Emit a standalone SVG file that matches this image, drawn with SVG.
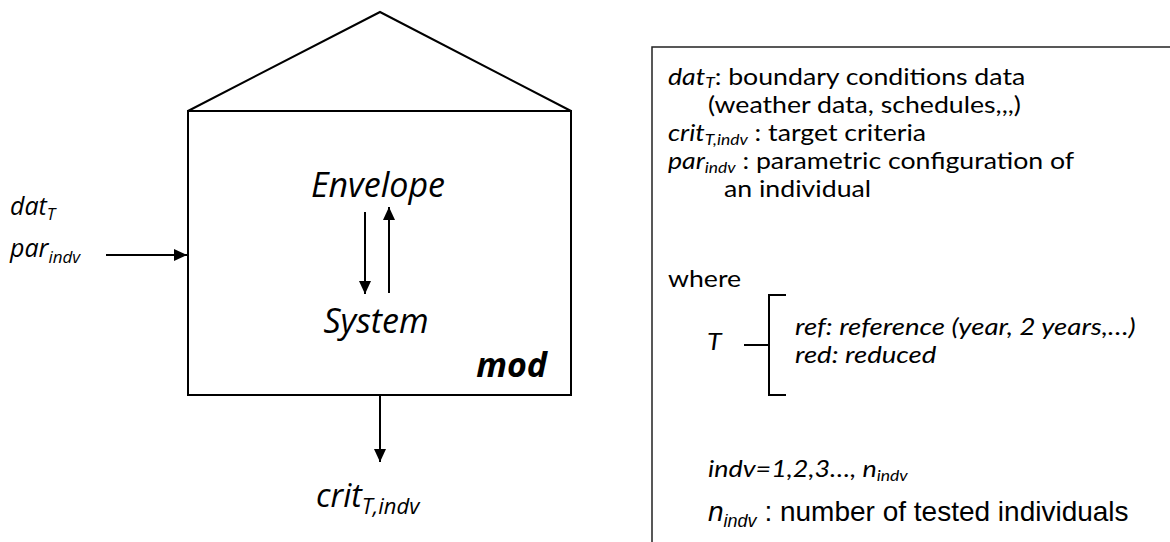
<svg xmlns="http://www.w3.org/2000/svg" width="1170" height="542" viewBox="0 0 1170 542">
<style>
.ln{stroke:#000;stroke-width:2;fill:none}
.bx{stroke:#222;stroke-width:1.5;fill:none}
.t{font-family:"Open Sans","Noto Sans",sans-serif;fill:#000}
.l{font-family:Lato,"Open Sans",sans-serif;fill:#000;font-size:23px}
.i{font-style:italic}
.a{font-family:"Liberation Sans",Arial,sans-serif;fill:#000}
</style>
<defs>
<marker id="ah" markerWidth="13" markerHeight="12" refX="13" refY="6" orient="auto" markerUnits="userSpaceOnUse"><path d="M0,0 L13,6 L0,12 z" fill="#000"/></marker>
</defs>
<rect width="1170" height="542" fill="#fff"/>
<g id="house">
<polyline class="ln" points="188,111 380,12 571,111"/>
<rect class="ln" x="188" y="111" width="383" height="284"/>
<text class="t i" x="378" y="197" font-size="34" text-anchor="middle">Envelope</text>
<text class="t i" x="376" y="333" font-size="34" text-anchor="middle">System</text>
<text class="t i" x="547" y="377" font-size="34" font-weight="bold" text-anchor="end">mod</text>
</g>
<g id="inputs">
<text class="t i" x="10" y="215" font-size="25">dat<tspan font-size="17" dy="5">T</tspan></text>
<text class="t i" x="10" y="257" font-size="25">par<tspan font-size="17" dy="6">indv</tspan></text>
</g>
<g id="output">
<text class="t i" x="316" y="507" font-size="32">crit<tspan font-size="22" dy="7">T,indv</tspan></text>
</g>
<g id="connectors">
<line class="ln" x1="106" y1="255" x2="187" y2="255" marker-end="url(#ah)"/>
<line class="ln" x1="365" y1="212" x2="365" y2="294" marker-end="url(#ah)"/>
<line class="ln" x1="389" y1="293" x2="389" y2="207" marker-end="url(#ah)"/>
<line class="ln" x1="380" y1="395" x2="380" y2="462" marker-end="url(#ah)"/>
</g>
<g id="legend">
<path class="bx" d="M1170,47 H652 V542"/>
<text class="l" transform="translate(668,85) scale(1.16,1)"><tspan class="i">dat</tspan><tspan class="i" font-size="15" dy="3">T</tspan><tspan dy="-3">: boundary conditions data</tspan></text>
<text class="l" transform="translate(708,113) scale(1.16,1)">(weather data, schedules,,,)</text>
<text class="l" transform="translate(668,141) scale(1.16,1)"><tspan class="i">crit</tspan><tspan class="i" font-size="15" dy="4">T,indv</tspan><tspan dy="-4"> : target  criteria</tspan></text>
<text class="l" transform="translate(668,169) scale(1.16,1)"><tspan class="i">par</tspan><tspan class="i" font-size="15" dy="4">indv</tspan><tspan dy="-4"> : parametric configuration of</tspan></text>
<text class="l" transform="translate(724,197) scale(1.16,1)">an individual</text>
<text class="l" transform="translate(668,287) scale(1.16,1)">where</text>
<text class="l i" transform="translate(707,350) scale(1.16,1)">T</text>
<path class="ln" d="M744,345 H769 M786,295 H769 V395 H786" stroke-width="1.8"/>
<text class="l i" transform="translate(795,335) scale(1.2,1)" font-size="24">ref: reference (year, 2 years,…)</text>
<text class="l i" transform="translate(795,363) scale(1.2,1)" font-size="24">red: reduced</text>
<text class="l i" transform="translate(708,477) scale(1.17,1)">indv=1,2,3…, n<tspan font-size="15" dy="4">indv</tspan></text>
<text class="a" x="708" y="521" font-size="28"><tspan font-style="italic">n</tspan><tspan font-style="italic" font-size="18" dy="6">indv</tspan><tspan dy="-6"> : number of tested individuals</tspan></text>
</g>
</svg>
